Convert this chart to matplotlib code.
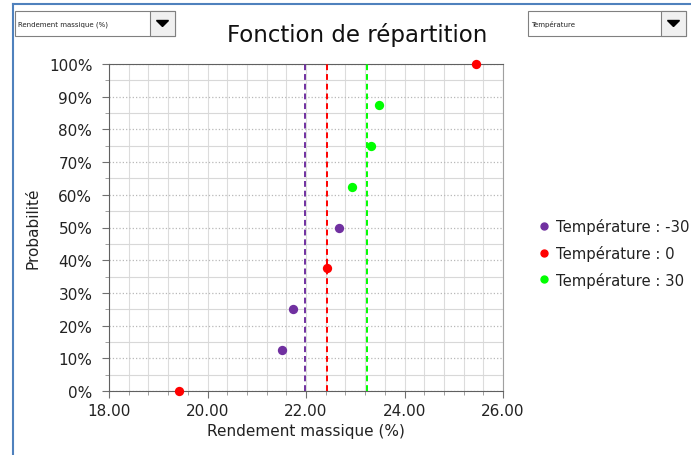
import numpy as np
import matplotlib.pyplot as plt
from matplotlib.patches import Rectangle, Polygon
from matplotlib.lines import Line2D
from matplotlib.ticker import MultipleLocator, PercentFormatter

plt.rcParams['font.family'] = ['DejaVu Sans']

# data
labels = ['Température : -30', 'Température : 0', 'Température : 30']
colors = ['#7030a0', '#ff0000', '#00ff00']
rend_m30 = [21.51, 21.73, 22.68]
prob_m30 = [12.5, 25.0, 50.0]
rend_0 = [19.42, 22.43, 25.45]
prob_0 = [0.0, 37.5, 100.0]
rend_30 = [22.93, 23.31, 23.49]
prob_30 = [62.5, 75.0, 87.5]
means = [21.97, 22.43, 23.24]

W, H = 691, 456
fig = plt.figure(figsize=(W / 100, H / 100), dpi=100)
ax = fig.add_axes([109 / W, 1 - 392 / H, (503 - 109) / W, (392 - 65) / H])

series = [(rend_m30, prob_m30), (rend_0, prob_0), (rend_30, prob_30)]
for (xs, ys), c, lab in zip(series, colors, labels):
    ax.scatter(xs, ys, s=45, color=c, zorder=4, clip_on=False, label=lab, linewidths=0)
for m, c in zip(means, colors):
    ax.axvline(m, color=c, lw=1.4, ls=(0, (3, 2)), zorder=3)

ax.set_xlim(18, 26)
ax.set_ylim(0, 100)
ax.xaxis.set_major_locator(MultipleLocator(2))
ax.xaxis.set_minor_locator(MultipleLocator(0.4))
ax.yaxis.set_major_locator(MultipleLocator(10))
ax.yaxis.set_minor_locator(MultipleLocator(5))
ax.xaxis.set_major_formatter(lambda v, p: f'{v:.2f}')
ax.yaxis.set_major_formatter(PercentFormatter(decimals=0))

ax.grid(True, which='major', axis='y', color='#b8b8b8', ls=':', lw=0.9)
ax.grid(True, which='minor', axis='y', color='#d8d8d8', lw=0.8)
ax.grid(True, which='both', axis='x', color='#dcdcdc', lw=0.8)
ax.set_axisbelow(True)

ax.tick_params(which='major', direction='out', length=5, color='#707070',
               labelsize=11, labelcolor='#222222', pad=4)
ax.tick_params(axis='y', which='major', pad=7)
ax.tick_params(which='minor', direction='out', length=3, color='#909090')
for s in ['left', 'bottom', 'top']:
    ax.spines[s].set_color('#606060')
ax.spines['right'].set_color('#a0a0a0')

ax.set_xlabel('Rendement massique (%)', fontsize=11, color='#222222', labelpad=3)
ax.set_ylabel('Probabilité', fontsize=11, color='#222222', labelpad=6)

fig.text(357 / W, 1 - 35 / H, 'Fonction de répartition', fontsize=16.5,
         ha='center', va='center', color='#111111')

handles = [Line2D([], [], marker='o', ls='', color=c, markersize=5) for c in colors]
fig.legend(handles, labels, loc='center left', bbox_to_anchor=(535 / W, 1 - 254 / H),
           frameon=False, fontsize=10.7, handletextpad=0.2, handlelength=1.2,
           labelspacing=0.72, borderaxespad=0, borderpad=0, labelcolor='#222222')

# window frame
fig.add_artist(Line2D([13 / W, 13 / W], [0, 1 - 5 / H], color='#4f81bd', lw=1.5))
fig.add_artist(Line2D([13 / W, 1], [1 - 5 / H, 1 - 5 / H], color='#4f81bd', lw=1.5))

# dropdown boxes
def dropdown(x0, x1, text):
    y0, y1 = 1 - 37 / H, 1 - 12 / H
    fig.add_artist(Rectangle((x0 / W, y0), (x1 - x0) / W, y1 - y0, transform=fig.transFigure,
                             facecolor='white', edgecolor='#808080', lw=0.8))
    fig.add_artist(Rectangle(((x1 - 25) / W, y0), 25 / W, y1 - y0, transform=fig.transFigure,
                             facecolor='#f0f0f0', edgecolor='#808080', lw=0.8))
    cx, cy = x1 - 12.5, 24.5
    fig.add_artist(Polygon([((cx - 6) / W, 1 - (cy - 3) / H), ((cx + 6) / W, 1 - (cy - 3) / H),
                            (cx / W, 1 - (cy + 3) / H)], closed=True, transform=fig.transFigure,
                           facecolor='black', edgecolor='black'))
    fig.text((x0 + 3) / W, 1 - 24.5 / H, text, fontsize=5, va='center', ha='left', color='#222222')

dropdown(15, 175, 'Rendement massique (%)')
dropdown(528, 686, 'Température')

fig.savefig('out.png', dpi=100)
